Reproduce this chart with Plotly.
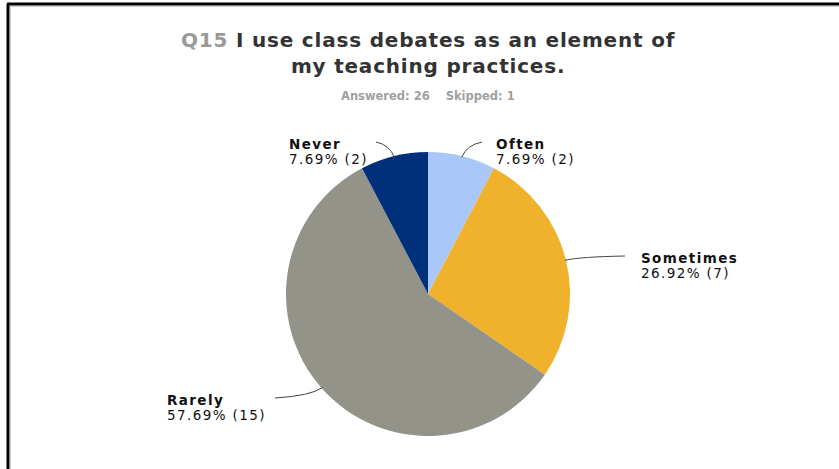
import math
import plotly.graph_objects as go

# ---- data ----
labels = ["Often", "Sometimes", "Rarely", "Never"]
counts = [2, 7, 15, 2]
percents = ["7.69%", "26.92%", "57.69%", "7.69%"]
colors = ["#a9c7f9", "#f0b12d", "#94938a", "#00307a"]
answered = 26
skipped = 1

W, H = 839, 469
CX, CY, R = 428, 294, 142  # pie centre / radius in px


def px(x):
    return x / W


def py(y):
    return 1 - y / H


fig = go.Figure(
    go.Pie(
        labels=labels,
        values=counts,
        marker=dict(colors=colors, line=dict(width=0)),
        sort=False,
        direction="clockwise",
        rotation=0,
        textinfo="none",
        hoverinfo="label+percent+value",
        showlegend=False,
        domain=dict(x=[px(CX - R), px(CX + R)], y=[py(CY + R), py(CY - R)]),
    )
)

# label text positions (top-left, px) and leader start points (px)
label_pos = {"Often": (494, 144), "Sometimes": (639, 258), "Rarely": (165, 400), "Never": (287, 144)}
lead_start = {"Often": (482, 142), "Sometimes": (625, 256), "Rarely": (275, 398), "Never": (376, 142)}

LS = "letter-spacing:1.4px"
total = sum(counts)
cum = 0
annotations = []
shapes = []
for lab, c, p in zip(labels, counts, percents):
    mid = (cum + c / 2) / total * 2 * math.pi
    cum += c
    ex = CX + (R - 1) * math.sin(mid)
    ey = CY - (R - 1) * math.cos(mid)
    sx, sy = lead_start[lab]
    qx = sx + (ex - sx) * 0.75
    qy = sy + (ey - sy) * 0.2
    shapes.append(dict(
        type="path", xref="paper", yref="paper",
        path=f"M {px(sx)} {py(sy)} Q {px(qx)} {py(qy)} {px(ex)} {py(ey)}",
        line=dict(color="#444444", width=1),
    ))
    tx, ty = label_pos[lab]
    annotations.append(dict(
        x=px(tx), y=py(ty), xref="paper", yref="paper",
        xanchor="left", yanchor="middle", align="left", showarrow=False,
        text=f"<span style='{LS}'><b>{lab}</b></span>",
        font=dict(family="DejaVu Sans", size=13.5, color="#111111"),
    ))
    annotations.append(dict(
        x=px(tx), y=py(ty + 15), xref="paper", yref="paper",
        xanchor="left", yanchor="middle", align="left", showarrow=False,
        text=f"<span style='{LS}'>{p} ({c})</span>",
        font=dict(family="DejaVu Sans", size=13.5, color="#111111"),
    ))

# title and subtitle
annotations.append(dict(
    x=px(428), y=py(53), xref="paper", yref="paper",
    xanchor="center", yanchor="middle", showarrow=False,
    text="<span style='letter-spacing:0.8px'><b><span style='color:#9a9a9a'>Q15</span> I use class debates as an element of<br>my teaching practices.</b></span>",
    font=dict(family="DejaVu Sans", size=20, color="#333333"),
))
annotations.append(dict(
    x=px(428), y=py(96), xref="paper", yref="paper",
    xanchor="center", yanchor="middle", showarrow=False,
    text=f"<b>Answered: {answered}&nbsp;&nbsp;&nbsp;&nbsp;Skipped: {skipped}</b>",
    font=dict(family="DejaVu Sans", size=11.5, color="#a0a0a0"),
))

# frame (left and top edges)
shapes.append(dict(type="line", xref="paper", yref="paper",
                   x0=px(8), y0=0, x1=px(8), y1=py(4), line=dict(color="black", width=3)))
shapes.append(dict(type="line", xref="paper", yref="paper",
                   x0=px(7), y0=py(4), x1=1, y1=py(4), line=dict(color="black", width=3)))
shapes.append(dict(type="line", xref="paper", yref="paper",
                   x0=px(10.5), y0=0, x1=px(10.5), y1=py(6), line=dict(color="#cccccc", width=1)))
shapes.append(dict(type="line", xref="paper", yref="paper",
                   x0=px(10.5), y0=py(6.5), x1=1, y1=py(6.5), line=dict(color="#cccccc", width=1)))

fig.update_layout(
    width=W, height=H,
    margin=dict(l=0, r=0, t=0, b=0),
    paper_bgcolor="white", plot_bgcolor="white",
    annotations=annotations, shapes=shapes,
)

fig.write_html("out.html", config={"displayModeBar": False},
               post_script="document.body.style.margin='0px';")
